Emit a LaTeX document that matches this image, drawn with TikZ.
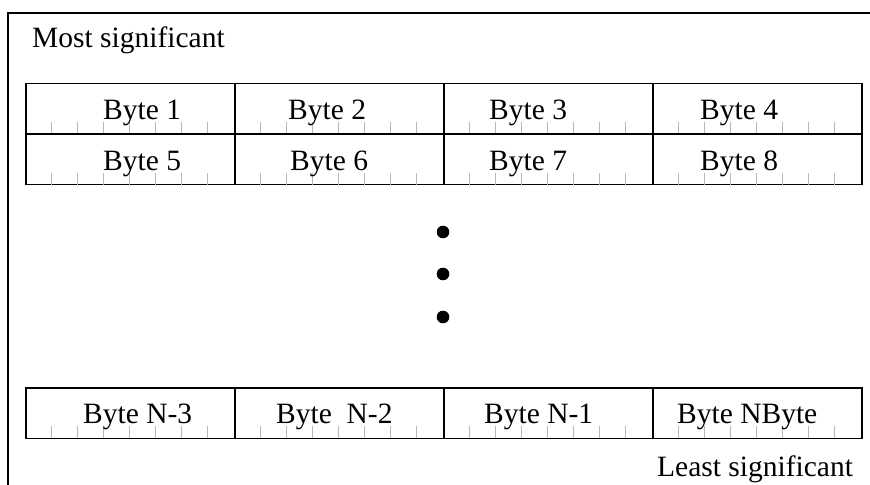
\documentclass[tikz,border=0pt]{standalone}
\usepackage{fontspec}
\setmainfont{Liberation Serif}
\usepackage{tikz}
\usetikzlibrary{calc}

\tikzset{
  cell/.style={draw, line width=1.5bp, minimum width=209bp, minimum height=50.5bp,
    inner sep=0pt, anchor=north west},
  bittick/.style={draw=black!28, line width=1.2bp},
  bytelabel/.style={anchor=base west, inner sep=0pt,
    font=\fontsize{29.5bp}{32bp}\selectfont}
}

\begin{document}
\begin{tikzpicture}[x=1bp, y=-1bp]

  \useasboundingbox (0,0) rectangle (870,485);

  % frame
  \draw[line width=2.4bp] (8,490) -- (8,13) -- (875,13);

  \node[bytelabel] (msb) at (32,48) {Most significant};

  % rows of bytes
  \foreach \row/\top in {1/83, 2/133.5, 3/387} {
    \foreach \col in {1,...,4} {
      \node[cell] (r\row c\col) at ({25+209*(\col-1)}, \top) {};
      % bit marks
      \foreach \k in {1,...,7}
        \draw[bittick] ($(r\row c\col.south west)+(\k*209/8,-0.8)$)
          -- ++(0,-12);
    }
  }

  % labels
  \foreach \name/\x/\y/\txt in {
    b1/103/120/{Byte 1}, b2/288/120/{Byte 2}, b3/489/120/{Byte 3}, b4/700/120/{Byte 4},
    b5/103/170.5/{Byte 5}, b6/290/170.5/{Byte 6}, b7/489/170.5/{Byte 7}, b8/700/170.5/{Byte 8},
    bn3/83/423.5/{Byte N-3}, bn2/276/423.5/{Byte\ \ N-2}, bn1/484/423.5/{Byte N-1},
    bn/677/423.5/{Byte NByte}
  } {
    \node[bytelabel] (\name) at (\x,\y) {\txt};
  }

  % dots
  \foreach \y [count=\i] in {232, 274, 317}
    \node[circle, fill, inner sep=0pt, minimum size=12.6bp] (dot\i) at (443,\y) {};

  \node[bytelabel] (lsb) at (657,476) {Least significant};

\end{tikzpicture}
\end{document}
